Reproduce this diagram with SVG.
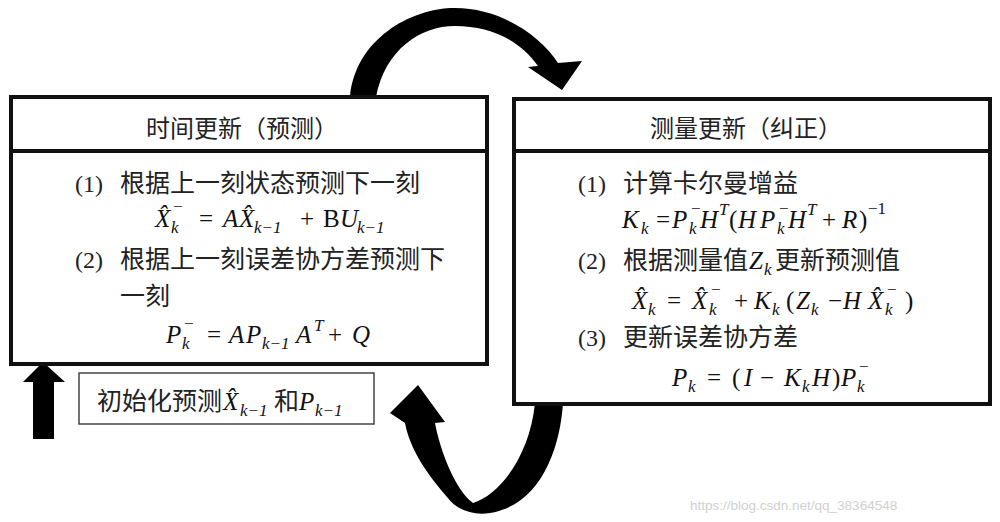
<svg xmlns="http://www.w3.org/2000/svg" width="1000" height="522" viewBox="0 0 1000 522">
<style>
.box{fill:#fff;stroke:#111;stroke-width:4}
.div{stroke:#111;stroke-width:4}
.ibox{fill:#fff;stroke:#444;stroke-width:1.5}
.zh{font-family:"Noto Sans CJK SC","Noto Sans CJK JP",sans-serif;font-size:25px;fill:#222}
.hd{font-size:24px}
.num{font-family:"Liberation Serif",serif;font-size:24px;fill:#222}
.m{font-family:"Liberation Serif",serif;font-style:italic;font-size:25px;fill:#111}
.r{font-style:normal}
.s{font-size:17px}
.arrow{fill:#000}
.wm{font-family:"Liberation Sans",sans-serif;font-size:13.5px;fill:#d0d0d0}
</style>
<rect width="1000" height="522" fill="#fff"/>

<g id="connectors">
<path class="arrow" d="M350,97 C355,40 410,8 455,8 C500,8 540,35 558,63 L582,61 L562,90 L528,67 L538,66 C520,40 490,26 455,26 C420,26 385,50 376,97 Z"/>
<path class="arrow" d="M535,403 L563,403 C560,450 540,505 490,513 C470,516 455,508 447,497 C428,475 410,450 405,423 L390,413 L418,385 L445,422 L435,423 C440,450 455,490 473,503 C500,495 530,455 535,403 Z"/>
<path class="arrow" d="M33,439 L33,382 L23,382 L43,362 L65,382 L54,382 L54,439 Z"/>
</g>

<g id="node-time-update">
<rect class="box" x="11" y="97" width="476" height="267"/>
<line class="div" x1="11" y1="151" x2="487" y2="151"/>
<text class="zh hd" x="242" y="137" text-anchor="middle">时间更新（预测）</text>
<text class="num" x="75" y="192">(1)</text>
<text class="zh" x="120" y="192">根据上一刻状态预测下一刻</text>
<text class="m"><tspan x="155" y="227">X&#x302;</tspan><tspan class="s" x="171" y="233">k</tspan><tspan class="s" x="172" y="212">−</tspan><tspan class="r" x="199" y="227">=</tspan><tspan x="223" y="227">A</tspan><tspan x="239" y="227">X&#x302;</tspan><tspan class="s" x="254" y="233">k−1</tspan><tspan class="r" x="300" y="227">+</tspan><tspan class="r" x="323" y="227">B</tspan><tspan x="340" y="227">U</tspan><tspan class="s" x="357" y="233">k−1</tspan></text>
<text class="num" x="75" y="268">(2)</text>
<text class="zh" x="120" y="268">根据上一刻误差协方差预测下</text>
<text class="zh" x="120" y="305">一刻</text>
<text class="m"><tspan x="166" y="343">P</tspan><tspan class="s" x="182" y="349">k</tspan><tspan class="s" x="183" y="329">−</tspan><tspan class="r" x="207" y="343">=</tspan><tspan x="229" y="343">A</tspan><tspan x="246" y="343">P</tspan><tspan class="s" x="262" y="349">k−1</tspan><tspan x="296" y="343">A</tspan><tspan class="s" x="314" y="331">T</tspan><tspan class="r" x="328" y="343">+</tspan><tspan x="352" y="343">Q</tspan></text>
</g>

<g id="node-measure-update">
<rect class="box" x="514" y="99" width="476" height="305"/>
<line class="div" x1="514" y1="151" x2="990" y2="151"/>
<text class="zh hd" x="746" y="137" text-anchor="middle">测量更新（纠正）</text>
<text class="num" x="578" y="192">(1)</text>
<text class="zh" x="623" y="192">计算卡尔曼增益</text>
<text class="m"><tspan x="622" y="228">K</tspan><tspan class="s" x="641" y="234">k</tspan><tspan class="r" x="656" y="228">=</tspan><tspan x="672" y="228">P</tspan><tspan class="s" x="689" y="234">k</tspan><tspan class="s" x="690" y="214">−</tspan><tspan x="700" y="228">H</tspan><tspan class="s" x="719" y="215">T</tspan><tspan class="r" x="729" y="228">(</tspan><tspan x="738" y="228">H</tspan><tspan x="760" y="228">P</tspan><tspan class="s" x="777" y="234">k</tspan><tspan class="s" x="778" y="214">−</tspan><tspan x="788" y="228">H</tspan><tspan class="s" x="807" y="215">T</tspan><tspan class="r" x="822" y="228">+</tspan><tspan x="842" y="228">R</tspan><tspan class="r" x="859" y="228">)</tspan><tspan class="s r" x="868" y="214">−1</tspan></text>
<text class="num" x="578" y="269">(2)</text>
<text class="zh" x="623" y="269">根据测量值</text>
<text class="m"><tspan x="749" y="269">Z</tspan><tspan class="s" x="764" y="275">k</tspan></text>
<text class="zh" x="775" y="269">更新预测值</text>
<text class="m"><tspan x="632" y="309">X&#x302;</tspan><tspan class="s" x="648" y="315">k</tspan><tspan class="r" x="667" y="309">=</tspan><tspan x="692" y="309">X&#x302;</tspan><tspan class="s" x="709" y="315">k</tspan><tspan class="s" x="710" y="295">−</tspan><tspan class="r" x="734" y="309">+</tspan><tspan x="754" y="309">K</tspan><tspan class="s" x="772" y="315">k</tspan><tspan class="r" x="786" y="309">(</tspan><tspan x="796" y="309">Z</tspan><tspan class="s" x="811" y="315">k</tspan><tspan class="r" x="828" y="309">−</tspan><tspan x="843" y="309">H</tspan><tspan x="868" y="309">X&#x302;</tspan><tspan class="s" x="885" y="315">k</tspan><tspan class="s" x="886" y="295">−</tspan><tspan class="r" x="905" y="309">)</tspan></text>
<text class="num" x="578" y="346">(3)</text>
<text class="zh" x="623" y="346">更新误差协方差</text>
<text class="m"><tspan x="672" y="386">P</tspan><tspan class="s" x="688" y="392">k</tspan><tspan class="r" x="707" y="386">=</tspan><tspan class="r" x="732" y="386">(</tspan><tspan x="744" y="386">I</tspan><tspan class="r" x="760" y="386">−</tspan><tspan x="784" y="386">K</tspan><tspan class="s" x="802" y="392">k</tspan><tspan x="812" y="386">H</tspan><tspan class="r" x="832" y="386">)</tspan><tspan x="841" y="386">P</tspan><tspan class="s" x="857" y="392">k</tspan><tspan class="s" x="858" y="372">−</tspan></text>
</g>

<g id="node-init">
<rect class="ibox" x="79" y="373" width="295" height="51"/>
<text class="zh" x="97" y="410">初始化预测</text>
<text class="m"><tspan x="223" y="410">X&#x302;</tspan><tspan class="s" x="240" y="416">k−1</tspan></text>
<text class="zh" x="274" y="410">和</text>
<text class="m"><tspan x="299" y="410">P</tspan><tspan class="s" x="315" y="416">k−1</tspan></text>
</g>

<text class="wm" x="690" y="510">https://blog.csdn.net/qq_38364548</text>
</svg>
